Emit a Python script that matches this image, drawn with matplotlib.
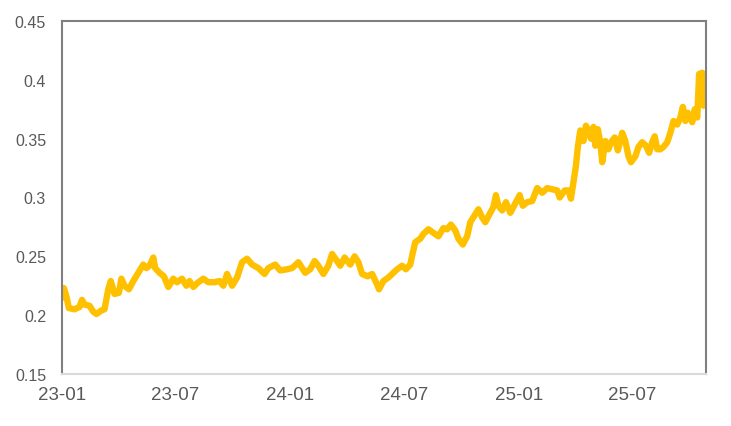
import matplotlib
matplotlib.use("Agg")
import matplotlib.pyplot as plt
import matplotlib.dates as mdates
from matplotlib.ticker import FuncFormatter
import pandas as pd

dates = [
    "2023-01-03", "2023-01-04", "2023-01-08", "2023-01-12", "2023-01-21", "2023-01-29", "2023-02-02", "2023-02-06",
    "2023-02-14", "2023-02-20", "2023-02-25", "2023-03-05", "2023-03-10", "2023-03-16", "2023-03-20", "2023-03-26",
    "2023-04-02", "2023-04-06", "2023-04-11", "2023-04-18", "2023-04-25", "2023-05-03", "2023-05-11", "2023-05-16",
    "2023-05-21", "2023-05-27", "2023-05-30", "2023-06-06", "2023-06-13", "2023-06-20", "2023-06-28", "2023-07-04",
    "2023-07-12", "2023-07-19", "2023-07-24", "2023-07-30", "2023-08-07", "2023-08-15", "2023-08-23", "2023-09-02",
    "2023-09-10", "2023-09-16", "2023-09-22", "2023-09-30", "2023-10-08", "2023-10-16", "2023-10-24", "2023-11-01",
    "2023-11-11", "2023-11-21", "2023-11-27", "2023-12-08", "2023-12-16", "2023-12-27", "2024-01-04", "2024-01-14",
    "2024-01-25", "2024-02-02", "2024-02-09", "2024-02-15", "2024-02-23", "2024-03-02", "2024-03-08", "2024-03-16",
    "2024-03-21", "2024-03-28", "2024-04-06", "2024-04-13", "2024-04-19", "2024-04-25", "2024-05-04", "2024-05-11",
    "2024-05-19", "2024-05-22", "2024-05-29", "2024-06-06", "2024-06-14", "2024-06-20", "2024-06-28", "2024-07-04",
    "2024-07-11", "2024-07-15", "2024-07-19", "2024-07-27", "2024-08-01", "2024-08-09", "2024-08-17", "2024-08-25",
    "2024-09-02", "2024-09-08", "2024-09-14", "2024-09-21", "2024-09-26", "2024-10-03", "2024-10-10", "2024-10-15",
    "2024-10-21", "2024-10-28", "2024-11-03", "2024-11-08", "2024-11-15", "2024-11-21", "2024-11-25", "2024-11-29",
    "2024-12-05", "2024-12-11", "2024-12-18", "2024-12-24", "2025-01-02", "2025-01-07", "2025-01-14", "2025-01-22",
    "2025-01-30", "2025-02-07", "2025-02-15", "2025-02-23", "2025-03-03", "2025-03-07", "2025-03-15", "2025-03-21",
    "2025-03-25", "2025-03-29", "2025-04-02", "2025-04-05", "2025-04-09", "2025-04-14", "2025-04-18", "2025-04-22",
    "2025-04-26", "2025-04-30", "2025-05-03", "2025-05-07", "2025-05-11", "2025-05-14", "2025-05-19", "2025-05-24",
    "2025-05-28", "2025-06-03", "2025-06-08", "2025-06-15", "2025-06-20", "2025-06-25", "2025-06-29", "2025-07-06",
    "2025-07-11", "2025-07-17", "2025-07-23", "2025-07-28", "2025-08-02", "2025-08-06", "2025-08-10", "2025-08-15",
    "2025-08-20", "2025-08-26", "2025-08-31", "2025-09-05", "2025-09-11", "2025-09-16", "2025-09-20", "2025-09-24",
    "2025-09-28", "2025-10-02", "2025-10-05", "2025-10-09", "2025-10-13", "2025-10-16", "2025-10-21", "2025-10-23",
    "2025-10-26",
]

values = [
    0.215, 0.223, 0.216, 0.206, 0.205, 0.207, 0.213, 0.209,
    0.208, 0.203, 0.201, 0.204, 0.205, 0.222, 0.229, 0.218,
    0.219, 0.231, 0.225, 0.222, 0.229, 0.236, 0.243, 0.240,
    0.242, 0.249, 0.240, 0.236, 0.233, 0.224, 0.231, 0.228,
    0.231, 0.225, 0.229, 0.224, 0.228, 0.231, 0.228, 0.228,
    0.229, 0.225, 0.235, 0.225, 0.232, 0.245, 0.248, 0.243,
    0.240, 0.235, 0.240, 0.243, 0.238, 0.239, 0.240, 0.245,
    0.236, 0.239, 0.246, 0.242, 0.235, 0.242, 0.252, 0.246,
    0.242, 0.249, 0.243, 0.250, 0.245, 0.235, 0.233, 0.235,
    0.226, 0.222, 0.229, 0.232, 0.236, 0.239, 0.242, 0.239,
    0.243, 0.253, 0.262, 0.265, 0.269, 0.273, 0.270, 0.267,
    0.274, 0.273, 0.277, 0.272, 0.265, 0.260, 0.267, 0.279,
    0.284, 0.290, 0.283, 0.279, 0.286, 0.292, 0.302, 0.293,
    0.289, 0.296, 0.287, 0.293, 0.302, 0.293, 0.296, 0.297,
    0.308, 0.304, 0.308, 0.307, 0.306, 0.300, 0.306, 0.306,
    0.299, 0.313, 0.327, 0.343, 0.357, 0.348, 0.361, 0.357,
    0.350, 0.360, 0.344, 0.358, 0.347, 0.330, 0.348, 0.341,
    0.347, 0.351, 0.340, 0.355, 0.348, 0.335, 0.330, 0.335,
    0.343, 0.347, 0.344, 0.338, 0.347, 0.352, 0.341, 0.341,
    0.343, 0.347, 0.355, 0.365, 0.362, 0.368, 0.377, 0.365,
    0.372, 0.367, 0.364, 0.375, 0.368, 0.405, 0.406, 0.378,
    0.382,
]

x_start = "2023-01-01"
x_end = "2025-10-27"
y_ticks = [0.15, 0.2, 0.25, 0.3, 0.35, 0.4, 0.45]

plt.rcParams['font.family'] = ['Liberation Sans', 'DejaVu Sans']

fig = plt.figure(figsize=(7.31, 4.27), dpi=100)
ax = fig.add_axes([62 / 731, 52 / 427, (706 - 62) / 731, (375 - 22) / 427])

x = pd.to_datetime(dates)
ax.plot(x, values, color="#FFC000", lw=4.6, solid_joinstyle="round", solid_capstyle="round")

ax.set_xlim(pd.Timestamp(x_start), pd.Timestamp(x_end))
ax.set_ylim(y_ticks[0], y_ticks[-1])
ax.set_yticks(y_ticks)
ax.yaxis.set_major_formatter(FuncFormatter(lambda v, p: f"{v:g}"))
ax.xaxis.set_major_locator(mdates.MonthLocator(bymonth=[1, 7]))
ax.xaxis.set_major_formatter(mdates.DateFormatter("%y-%m"))

for side in ["left", "top", "right"]:
    ax.spines[side].set_color("#808080")
    ax.spines[side].set_linewidth(1.5)
ax.spines["bottom"].set_color("#D9D9D9")
ax.spines["bottom"].set_linewidth(1.5)

ax.tick_params(axis="both", length=0, labelcolor="#595959")
ax.tick_params(axis="y", pad=11.5, labelsize=11.5)
ax.tick_params(axis="x", pad=9, labelsize=13.5)

fig.savefig("out.png", dpi=100)
